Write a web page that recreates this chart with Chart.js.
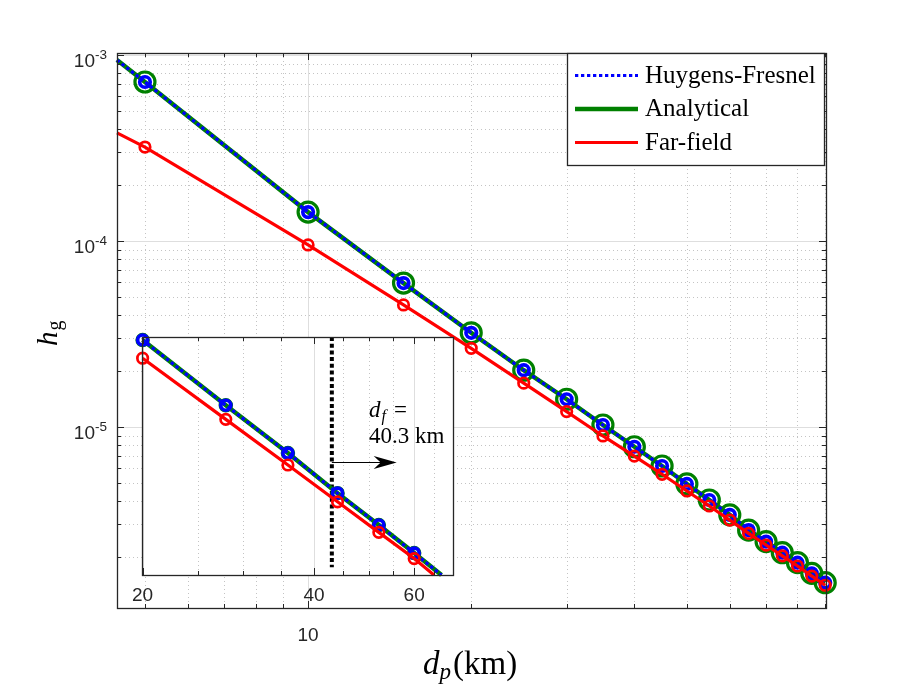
<!DOCTYPE html>
<html lang="en">
<head>
<meta charset="UTF-8">
<title>h_g versus d_p</title>
<script src="https://cdn.jsdelivr.net/npm/chart.js"></script>
<style>
    body { margin: 0; background: #fff; }
    #wrap { position: relative; width: 912px; height: 684px; }
    #mainChart { position: absolute; left: 0; top: 0; }
    #insetChart { position: absolute; left: 120px; top: 320px; }
</style>
</head>
<body>
<div id="wrap">
    <canvas id="mainChart" width="912" height="684"></canvas>
    <canvas id="insetChart" width="360" height="300"></canvas>
</div>
<script>
// ---- values ----
const seriesNames = ['Huygens-Fresnel', 'Analytical', 'Far-field'];

// main axes (d_p in km, h_g), log-log
const mainX   = [4.44, 5, 10, 15, 20, 25, 30, 35, 40, 45, 50, 55, 60, 65, 70, 75, 80, 85, 90];
const mainHF  = [9.4e-4, 7.16e-4, 1.43e-4, 5.94e-5, 3.21e-5, 2.02e-5, 1.41e-5, 1.025e-5, 7.83e-6, 6.17e-6,
                 4.94e-6, 4.05e-6, 3.37e-6, 2.79e-6, 2.42e-6, 2.11e-6, 1.865e-6, 1.634e-6, 1.455e-6];
const mainAn  = [9.4e-4, 7.16e-4, 1.43e-4, 5.94e-5, 3.21e-5, 2.02e-5, 1.41e-5, 1.025e-5, 7.83e-6, 6.17e-6,
                 4.94e-6, 4.05e-6, 3.37e-6, 2.79e-6, 2.42e-6, 2.11e-6, 1.865e-6, 1.634e-6, 1.455e-6];
const mainFF  = [3.81e-4, 3.20e-4, 9.52e-5, 4.53e-5, 2.65e-5, 1.72e-5, 1.21e-5, 8.95e-6, 6.98e-6, 5.57e-6,
                 4.53e-6, 3.76e-6, 3.16e-6, 2.68e-6, 2.32e-6, 2.03e-6, 1.79e-6, 1.58e-6, 1.41e-6];
const mainXRange = [4.44, 90.3];
const mainYRange = [1.064e-6, 1.025e-3];
const mainXTicks = [5, 6, 7, 8, 9, 10, 20, 30, 40, 50, 60, 70, 80, 90];
const mainXMajor = [10];
const mainXLabels = ['10'];
const mainYTicks = [2e-6, 3e-6, 4e-6, 5e-6, 6e-6, 7e-6, 8e-6, 9e-6, 1e-5,
                    2e-5, 3e-5, 4e-5, 5e-5, 6e-5, 7e-5, 8e-5, 9e-5, 1e-4,
                    2e-4, 3e-4, 4e-4, 5e-4, 6e-4, 7e-4, 8e-4, 9e-4, 1e-3];
const mainYMajor = [1e-5, 1e-4, 1e-3];
const mainYExp = ['-5', '-4', '-3'];

// inset axes
const insetXHF = [20, 28, 36, 44, 52, 60, 67];
const insetHF  = [3.24e-5, 1.62e-5, 9.75e-6, 6.37e-6, 4.54e-6, 3.37e-6, 2.67e-6];
const insetAn  = [3.24e-5, 1.62e-5, 9.75e-6, 6.37e-6, 4.54e-6, 3.37e-6, 2.67e-6];
const insetXFF = [20, 28, 36, 44, 52, 60, 65];
const insetFF  = [2.67e-5, 1.395e-5, 8.59e-6, 5.81e-6, 4.20e-6, 3.18e-6, 2.67e-6];
const insetXRange = [19.95, 70.2];
const insetYRange = [2.67e-6, 3.345e-5];
const insetXTicks = [20, 25, 30, 35, 40, 45, 50, 55, 60, 65];
const insetXMajor = [20, 40, 60];
const farFieldDist = 43;          // where the dotted marker line sits on the inset axis
const farFieldText = ['=', '40.3 km'];

// ---- styles ----
const AXIS = '#262626';
const GRID_MAJOR = '#dedede';
const GRID_MINOR = '#c4c4c4';
const SANS = '"Liberation Sans", Arial, sans-serif';
const SERIF = '"Liberation Serif", "Times New Roman", serif';
const BLUE = '#0000ff', GREEN = '#008000', RED = '#ff0000';

const pts = (xs, ys) => xs.map((x, i) => ({x: x, y: ys[i]}));

function drawGrid(chart, xTicks, xMajor, yTicks, yMajor) {
    const {ctx, chartArea: a, scales: {x, y}} = chart;
    ctx.save();
    ctx.lineWidth = 1;
    xTicks.forEach(v => {
        const px = Math.round(x.getPixelForValue(v)) + 0.5;
        const major = xMajor.includes(v);
        ctx.strokeStyle = major ? GRID_MAJOR : GRID_MINOR;
        ctx.setLineDash(major ? [] : [1, 3]);
        ctx.beginPath(); ctx.moveTo(px, a.top); ctx.lineTo(px, a.bottom); ctx.stroke();
    });
    yTicks.forEach(v => {
        const py = Math.round(y.getPixelForValue(v)) + 0.5;
        const major = yMajor.includes(v);
        ctx.strokeStyle = major ? GRID_MAJOR : GRID_MINOR;
        ctx.setLineDash(major ? [] : [1, 3]);
        ctx.beginPath(); ctx.moveTo(a.left, py); ctx.lineTo(a.right, py); ctx.stroke();
    });
    ctx.restore();
}

function drawBoxAndTicks(chart, xTicks, xMajor, yTicks, yMajor) {
    const {ctx, chartArea: a, scales: {x, y}} = chart;
    ctx.save();
    ctx.strokeStyle = AXIS;
    ctx.lineWidth = 1;
    ctx.setLineDash([]);
    ctx.beginPath();
    xTicks.forEach(v => {
        const px = Math.round(x.getPixelForValue(v)) + 0.5;
        const len = xMajor.includes(v) ? 7 : 4;
        ctx.moveTo(px, a.bottom); ctx.lineTo(px, a.bottom - len);
        ctx.moveTo(px, a.top); ctx.lineTo(px, a.top + len);
    });
    yTicks.forEach(v => {
        const py = Math.round(y.getPixelForValue(v)) + 0.5;
        const len = yMajor.includes(v) ? 7 : 4;
        ctx.moveTo(a.left, py); ctx.lineTo(a.left + len, py);
        ctx.moveTo(a.right, py); ctx.lineTo(a.right - len, py);
    });
    ctx.stroke();
    ctx.lineWidth = 1.3;
    ctx.strokeRect(Math.round(a.left) + 0.5, Math.round(a.top) + 0.5,
                   Math.round(a.right - a.left), Math.round(a.bottom - a.top));
    ctx.restore();
}

function drawMainText(chart) {
    const {ctx, chartArea: a, scales: {x, y}} = chart;
    ctx.save();
    ctx.fillStyle = AXIS;
    // y tick labels 10^k
    mainYMajor.forEach((v, i) => {
        const py = y.getPixelForValue(v);
        ctx.textAlign = 'right';
        ctx.textBaseline = 'alphabetic';
        ctx.font = '13.5px ' + SANS;
        const ew = ctx.measureText(mainYExp[i]).width;
        ctx.fillText(mainYExp[i], a.left - 10, py + 4);
        ctx.font = '19px ' + SANS;
        ctx.fillText('10', a.left - 10 - ew, py + 12);
    });
    // x tick label
    ctx.font = '19px ' + SANS;
    ctx.textAlign = 'center';
    mainXMajor.forEach((v, i) => ctx.fillText(mainXLabels[i], x.getPixelForValue(v), a.bottom + 33));

    // x title: d_p(km)
    ctx.fillStyle = '#000';
    ctx.textAlign = 'left';
    let tx = 423;
    const ty = a.bottom + 66;
    ctx.font = 'italic 33px ' + SERIF;
    ctx.fillText('d', tx, ty); tx += ctx.measureText('d').width;
    ctx.font = 'italic 23px ' + SERIF;
    ctx.fillText('p', tx, ty + 5); tx += ctx.measureText('p').width + 2;
    ctx.font = '33px ' + SERIF;
    ctx.fillText('(km)', tx, ty);

    // y title: h_g, rotated
    ctx.translate(57, 346);
    ctx.rotate(-Math.PI / 2);
    ctx.font = 'italic 29px ' + SERIF;
    ctx.fillText('h', 0, 0);
    const hw = ctx.measureText('h').width;
    ctx.font = '20px ' + SERIF;
    ctx.fillText('g', hw + 1, 4);
    ctx.restore();
}

function drawLegend(chart) {
    const {ctx, chartArea: a} = chart;
    const bx = a.right - 259, by = a.top, bw = 257, bh = 112;
    ctx.save();
    ctx.fillStyle = '#fff';
    ctx.fillRect(bx, by, bw, bh);
    ctx.strokeStyle = AXIS;
    ctx.lineWidth = 1.3;
    ctx.strokeRect(Math.round(bx) + 0.5, Math.round(by) + 0.5, bw, bh);
    seriesNames.forEach((name, i) => {
        const ds = chart.data.datasets.find(d => d.label === name);
        const ry = by + 22.5 + i * 33.5;
        ctx.strokeStyle = ds.borderColor;
        ctx.lineWidth = ds.borderWidth;
        ctx.setLineDash(ds.borderDash || []);
        ctx.beginPath(); ctx.moveTo(bx + 8, ry); ctx.lineTo(bx + 71, ry); ctx.stroke();
        ctx.setLineDash([]);
        ctx.fillStyle = '#000';
        ctx.font = '25px ' + SERIF;
        ctx.textAlign = 'left';
        ctx.textBaseline = 'alphabetic';
        ctx.fillText(name, bx + 78, ry + 7);
    });
    ctx.restore();
}

function markerRadius(r, test) {
    return ctx => (ctx.raw && test(ctx.raw.x) ? r : 0);
}

// ---- main chart ----
const inMain = v => v >= 5;
const mainChart = new Chart(document.getElementById('mainChart'), {
    type: 'line',
    data: {
        datasets: [
            {
                label: seriesNames[2], data: pts(mainX, mainFF), order: 0, clip: false,
                borderColor: RED, borderWidth: 3.2, backgroundColor: 'transparent',
                pointRadius: markerRadius(5.25, inMain), pointBorderWidth: 2.7,
                pointBorderColor: RED, pointBackgroundColor: 'transparent'
            },
            {
                label: seriesNames[0], data: pts(mainX, mainHF), order: 1, clip: false,
                borderColor: BLUE, borderWidth: 3.2, borderDash: [3.3, 2.7], backgroundColor: 'transparent',
                pointRadius: markerRadius(5.25, inMain), pointBorderWidth: 3.7,
                pointBorderColor: BLUE, pointBackgroundColor: 'transparent'
            },
            {
                label: seriesNames[1], data: pts(mainX, mainAn), order: 2, clip: false,
                borderColor: GREEN, borderWidth: 4.5, backgroundColor: 'transparent',
                pointRadius: markerRadius(10, inMain), pointBorderWidth: 3.2,
                pointBorderColor: GREEN, pointBackgroundColor: 'transparent'
            }
        ]
    },
    options: {
        responsive: false,
        animation: false,
        elements: { line: { tension: 0 } },
        layout: { padding: { top: 53, right: 86, left: 0, bottom: 0 } },
        scales: {
            x: {
                type: 'logarithmic', min: mainXRange[0], max: mainXRange[1],
                ticks: { display: false }, grid: { display: false }, border: { display: false },
                afterFit: s => { s.height = 76; }
            },
            y: {
                type: 'logarithmic', min: mainYRange[0], max: mainYRange[1],
                ticks: { display: false }, grid: { display: false }, border: { display: false },
                afterFit: s => { s.width = 117; }
            }
        },
        plugins: { legend: { display: false }, tooltip: { enabled: false } }
    },
    plugins: [{
        id: 'mainDecor',
        beforeDatasetsDraw(chart) { drawGrid(chart, mainXTicks, mainXMajor, mainYTicks, mainYMajor); },
        afterDatasetsDraw(chart) {
            drawBoxAndTicks(chart, mainXTicks, mainXMajor, mainYTicks, mainYMajor);
            drawMainText(chart);
            drawLegend(chart);
        }
    }]
});

// ---- inset ----
const inInset = v => v <= 60;
const insetChart = new Chart(document.getElementById('insetChart'), {
    type: 'line',
    data: {
        datasets: [
            {
                label: seriesNames[2], data: pts(insetXFF, insetFF), order: 0, clip: false,
                borderColor: RED, borderWidth: 3.2, backgroundColor: 'transparent',
                pointRadius: markerRadius(5.25, inInset), pointBorderWidth: 2.7,
                pointBorderColor: RED, pointBackgroundColor: 'transparent'
            },
            {
                label: seriesNames[0], data: pts(insetXHF, insetHF), order: 1, clip: false,
                borderColor: BLUE, borderWidth: 3.2, borderDash: [3.3, 2.7], backgroundColor: 'transparent',
                pointRadius: markerRadius(5, inInset), pointBorderWidth: 3.7,
                pointBorderColor: BLUE, pointBackgroundColor: 'transparent'
            },
            {
                label: seriesNames[1], data: pts(insetXHF, insetAn), order: 2, clip: false,
                borderColor: GREEN, borderWidth: 4.5, backgroundColor: 'transparent',
                pointRadius: markerRadius(6, inInset), pointBorderWidth: 2.5,
                pointBorderColor: GREEN, pointBackgroundColor: 'transparent'
            }
        ]
    },
    options: {
        responsive: false,
        animation: false,
        elements: { line: { tension: 0 } },
        layout: { padding: { top: 17, right: 27, left: 22, bottom: 0 } },
        scales: {
            x: {
                type: 'logarithmic', min: insetXRange[0], max: insetXRange[1],
                ticks: { display: false }, grid: { display: false }, border: { display: false },
                afterFit: s => { s.height = 45; }
            },
            y: {
                type: 'logarithmic', min: insetYRange[0], max: insetYRange[1],
                ticks: { display: false }, grid: { display: false }, border: { display: false },
                afterFit: s => { s.width = 0; }
            }
        },
        plugins: { legend: { display: false }, tooltip: { enabled: false } }
    },
    plugins: [{
        id: 'insetDecor',
        beforeDatasetsDraw(chart) {
            const {ctx, chartArea: a, scales: {x, y}} = chart;
            ctx.save();
            ctx.fillStyle = '#fff';
            ctx.fillRect(a.left, a.top, a.right - a.left, a.bottom - a.top);
            ctx.restore();
            drawGrid(chart, insetXTicks, insetXMajor, [], []);
            // far-field boundary marker
            const px = x.getPixelForValue(farFieldDist);
            ctx.save();
            ctx.strokeStyle = '#000';
            ctx.lineWidth = 4;
            ctx.setLineDash([4, 2.7]);
            ctx.beginPath();
            ctx.moveTo(px, a.top);
            ctx.lineTo(px, y.getPixelForValue(2.9e-6));
            ctx.stroke();
            ctx.restore();
        },
        afterDatasetsDraw(chart) {
            const {ctx, chartArea: a, scales: {x, y}} = chart;
            drawBoxAndTicks(chart, insetXTicks, insetXMajor, [], []);
            ctx.save();
            ctx.fillStyle = AXIS;
            ctx.font = '19px ' + SANS;
            ctx.textAlign = 'center';
            ctx.textBaseline = 'alphabetic';
            insetXMajor.forEach(v => ctx.fillText(String(v), x.getPixelForValue(v), a.bottom + 26));

            // arrow pointing into the far field
            const x0 = x.getPixelForValue(farFieldDist);
            const x1 = x.getPixelForValue(55.9);
            const ay = Math.round(y.getPixelForValue(8.9e-6)) + 0.5;
            ctx.strokeStyle = '#000';
            ctx.fillStyle = '#000';
            ctx.lineWidth = 1;
            ctx.beginPath(); ctx.moveTo(x0, ay); ctx.lineTo(x1 - 10, ay); ctx.stroke();
            ctx.beginPath();
            ctx.moveTo(x1, ay);
            ctx.lineTo(x1 - 23, ay - 6.5);
            ctx.lineTo(x1 - 16, ay);
            ctx.lineTo(x1 - 23, ay + 6.5);
            ctx.closePath();
            ctx.fill();

            // label d_f = 40.3 km
            const tx = x.getPixelForValue(50);
            const ty1 = y.getPixelForValue(1.43e-5);
            const ty2 = y.getPixelForValue(1.084e-5);
            ctx.textAlign = 'left';
            ctx.font = 'italic 23px ' + SERIF;
            ctx.fillText('d', tx, ty1);
            let cx = tx + ctx.measureText('d').width;
            ctx.font = 'italic 16px ' + SERIF;
            ctx.fillText('f', cx + 1, ty1 + 4);
            cx += ctx.measureText('f').width + 9;
            ctx.font = '23px ' + SERIF;
            ctx.fillText(farFieldText[0], cx, ty1);
            ctx.fillText(farFieldText[1], tx, ty2);
            ctx.restore();
        }
    }]
});
</script>
</body>
</html>
